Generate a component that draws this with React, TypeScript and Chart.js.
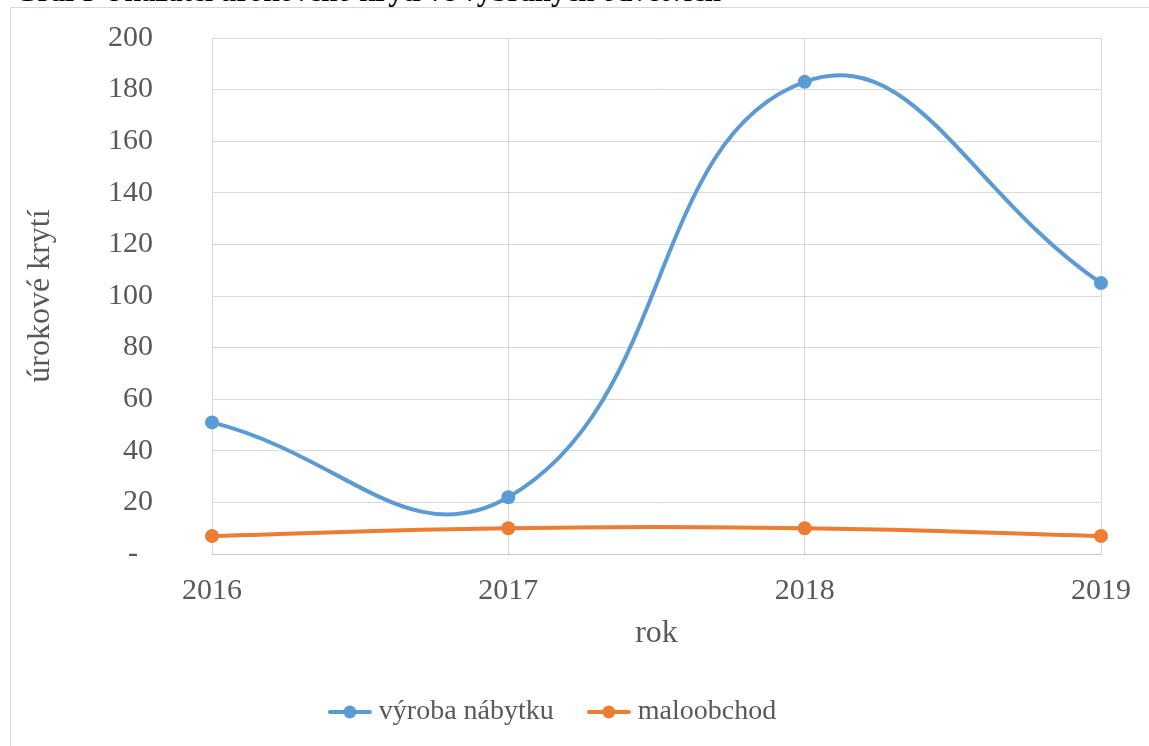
import { useEffect, useRef } from 'react';
import { Chart, registerables } from 'chart.js';

Chart.register(...registerables);

const years = ['2016', '2017', '2018', '2019'];
const vyrobaNabytku = [51, 22, 183, 105];
const maloobchod = [7, 10, 10, 7];
const seriesNames = ['výroba nábytku', 'maloobchod'];
const seriesColors = ['#5B9BD5', '#ED7D31'];
const yMin = 0;
const yMax = 200;
const yStep = 20;
const titleText = 'Graf 5 Ukazatel úrokového krytí ve vybraných odvětvích';
const yTitle = 'úrokové krytí';
const xTitle = 'rok';

const FONT = '"Liberation Serif", "Times New Roman", serif';
const TEXT = '#595959';
const GRID = '#D9D9D9';
const NONE = 'rgba(0,0,0,0)';

function legendIcon(color: string) {
  const c = document.createElement('canvas');
  c.width = 44;
  c.height = 16;
  const ctx = c.getContext('2d')!;
  ctx.strokeStyle = color;
  ctx.lineWidth = 4;
  ctx.lineCap = 'round';
  ctx.beginPath();
  ctx.moveTo(2, 8);
  ctx.lineTo(42, 8);
  ctx.stroke();
  ctx.fillStyle = color;
  ctx.beginPath();
  ctx.arc(22, 8, 6.5, 0, Math.PI * 2);
  ctx.fill();
  return c;
}

export default function App() {
  const ref = useRef<HTMLCanvasElement | null>(null);

  useEffect(() => {
    if (!ref.current) return;
    const icons = seriesColors.map((c) => legendIcon(c));
    const legendShift = {
      id: 'legendShift',
      afterLayout(chart: any) {
        const lg = chart.legend;
        if (lg) {
          lg.left += 5;
          lg.right += 5;
        }
      },
    };
    const chart = new Chart(ref.current, {
      type: 'line',
      data: {
        labels: years,
        datasets: [vyrobaNabytku, maloobchod].map((d, i) => ({
          label: seriesNames[i],
          data: d,
          borderColor: seriesColors[i],
          backgroundColor: seriesColors[i],
          borderWidth: 4,
          pointRadius: 7,
          pointBorderWidth: 0,
          pointBackgroundColor: seriesColors[i],
          tension: 0.45,
          fill: false,
        })),
      },
      plugins: [legendShift],
      options: {
        animation: false,
        responsive: false,
        maintainAspectRatio: false,
        layout: { padding: { left: 0, top: 38, right: 48, bottom: 10 } },
        plugins: {
          title: { display: false },
          tooltip: { enabled: false },
          legend: {
            position: 'bottom',
            labels: {
              font: { family: FONT, size: 28 },
              color: TEXT,
              usePointStyle: true,
              pointStyleWidth: 30,
              padding: 40,
              generateLabels: (ch: any) =>
                (Chart.defaults.plugins.legend.labels.generateLabels as any)(ch).map((l: any, i: number) => ({
                  ...l,
                  pointStyle: icons[i],
                })),
            },
          },
        },
        scales: {
          x: {
            type: 'category',
            offset: false,
            afterFit: (s: any) => {
              s.height = 104;
            },
            grid: { color: GRID, lineWidth: 1, drawTicks: true, tickLength: 16, tickColor: NONE },
            border: { display: true, color: '#C8C8C8', width: 1 },
            ticks: { font: { family: FONT, size: 30 }, color: TEXT, padding: 3, maxRotation: 0 },
            title: {
              display: true,
              text: xTitle,
              font: { family: FONT, size: 32 },
              color: TEXT,
              padding: { top: 0, bottom: 5 },
            },
          },
          y: {
            min: yMin,
            max: yMax,
            afterFit: (s: any) => {
              s.width = 212;
            },
            grid: { color: GRID, lineWidth: 1, drawTicks: true, tickLength: 56, tickColor: NONE },
            border: { display: false },
            ticks: {
              stepSize: yStep,
              font: { family: FONT, size: 30 },
              color: TEXT,
              padding: 3,
              callback: (v: any) => (Number(v) === 0 ? '-  ' : String(v)),
            },
            title: {
              display: true,
              text: yTitle,
              font: { family: FONT, size: 32 },
              color: TEXT,
              padding: { top: 21, bottom: 0 },
            },
          },
        },
      },
    });
    return () => chart.destroy();
  }, []);

  return (
    <div
      style={{
        position: 'absolute',
        left: 0,
        top: 0,
        width: 1149,
        height: 746,
        overflow: 'hidden',
        background: '#fff',
      }}
    >
      <div
        style={{
          position: 'absolute',
          left: 15,
          top: -23,
          whiteSpace: 'nowrap',
          fontFamily: FONT,
          fontWeight: 'bold',
          fontSize: 29,
          lineHeight: '29px',
          color: '#000',
        }}
      >
        {titleText}
      </div>
      <div
        style={{
          position: 'absolute',
          left: 10,
          top: 7,
          width: 1300,
          height: 900,
          border: '1px solid #D9D9D9',
          boxSizing: 'border-box',
        }}
      />
      <canvas ref={ref} width={1149} height={746} style={{ position: 'absolute', left: 0, top: 0 }} />
    </div>
  );
}
